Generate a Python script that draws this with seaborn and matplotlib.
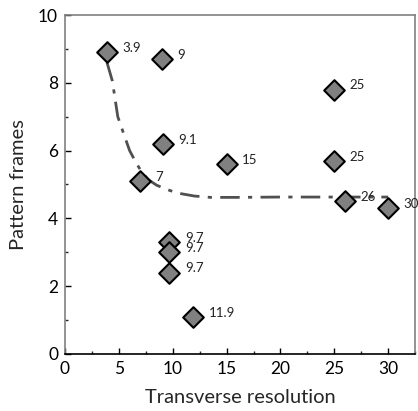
import matplotlib
matplotlib.use("Agg")
import matplotlib.pyplot as plt
import seaborn as sns
import pandas as pd
from matplotlib.ticker import MultipleLocator

sns.set_theme(style="white")
plt.rcParams['font.family'] = ['Lato', 'DejaVu Sans']

resolution = [3.9, 9, 25, 9.1, 15, 25, 7, 26, 30, 9.7, 9.7, 9.7, 11.9]
frames = [8.9, 8.7, 7.8, 6.2, 5.6, 5.7, 5.1, 4.5, 4.3, 3.3, 3.0, 2.4, 1.1]
point_labels = ["3.9", "9", "25", "9.1", "15", "25", "7", "26", "30", "9.7", "9.7", "9.7", "11.9"]

trend_x = [3.9, 4.4, 4.9, 5.5, 6.0, 6.5, 7.0, 7.7, 8.5, 9.5, 10.4, 12.0, 13.5, 16.0, 20.0, 25.0, 30.0]
trend_y = [8.6, 8.05, 7.0, 6.45, 6.0, 5.7, 5.43, 5.15, 4.98, 4.85, 4.75, 4.66, 4.62, 4.62, 4.63, 4.63, 4.63]

df = pd.DataFrame({"x": resolution, "y": frames})
tdf = pd.DataFrame({"x": trend_x, "y": trend_y})

fig = plt.figure(figsize=(4.18, 4.11), dpi=100)
ax = fig.add_axes([0.1555, 0.1387, 0.8375, 0.8248])

sns.lineplot(data=tdf, x="x", y="y", ax=ax, color="#505050", lw=2,
             linestyle=(0, (7, 3, 1.5, 3)), sort=False, zorder=2)
sns.scatterplot(data=df, x="x", y="y", ax=ax, marker="D", s=110,
                color="#808080", edgecolor="black", linewidth=1.5, zorder=3)

for xv, yv, lab in zip(resolution, frames, point_labels):
    ax.annotate(lab, (xv, yv), xytext=(11, 3), textcoords="offset points",
                fontsize=9.5, color="#222222", ha="left", va="center",
                annotation_clip=False)

ax.set_xlim(0, 32.5)
ax.set_ylim(0, 10)
ax.xaxis.set_major_locator(MultipleLocator(5))
ax.xaxis.set_minor_locator(MultipleLocator(2.5))
ax.yaxis.set_major_locator(MultipleLocator(2))
ax.yaxis.set_minor_locator(MultipleLocator(1))
ax.tick_params(which="major", direction="in", length=4, width=1, labelsize=12.5,
               colors="black", bottom=True, left=True, pad=5)
ax.tick_params(which="minor", direction="in", length=2, width=1, bottom=True, left=True)
ax.set_xlabel("Transverse resolution", fontsize=14.5, labelpad=9)
ax.set_ylabel("Pattern frames", fontsize=14.5, labelpad=8)
for s in ["left", "right", "top"]:
    ax.spines[s].set_color("#808080")
    ax.spines[s].set_linewidth(1.2)
ax.spines["bottom"].set_color("black")
ax.spines["bottom"].set_linewidth(1.2)
ax.grid(False)

fig.savefig("out.png", dpi=100)
